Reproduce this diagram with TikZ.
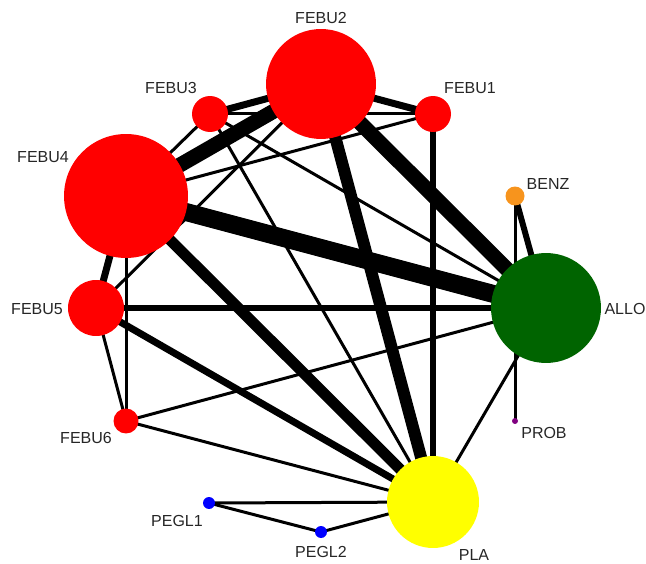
\documentclass[tikz,border=0pt]{standalone}
\usepackage{fontspec}
\setmainfont{Liberation Sans}
\usetikzlibrary{backgrounds}
\definecolor{trtRed}{RGB}{255, 0, 0}
\definecolor{trtGreen}{RGB}{0, 100, 0}
\definecolor{trtOrange}{RGB}{247, 148, 29}
\definecolor{trtYellow}{RGB}{255, 255, 0}
\definecolor{trtBlue}{RGB}{0, 0, 255}
\definecolor{trtPurple}{RGB}{128, 0, 128}

\begin{document}
\begin{tikzpicture}[
    x=0.02cm, y=-0.02cm,
    trt/.style={circle, inner sep=0pt, minimum size=#1*0.4mm},
    lbl/.style={font=\fontsize{9.1}{11}\selectfont, text=black!85, inner sep=0pt},
    cmp/.style={line width=#1*0.2mm, black},
  ]
    \useasboundingbox (0,0) rectangle (646,564);

    % treatments
    \node[trt=55, fill=trtRed] (FEBU2) at (321,84) {};
    \node[trt=18, fill=trtRed] (FEBU3) at (210,114) {};
    \node[trt=18, fill=trtRed] (FEBU1) at (433,114) {};
    \node[trt=62, fill=trtRed] (FEBU4) at (126,196) {};
    \node[trt=28, fill=trtRed] (FEBU5) at (96,308) {};
    \node[trt=12.5, fill=trtRed] (FEBU6) at (126,421) {};
    \node[trt=9.5, fill=trtOrange] (BENZ) at (515,196) {};
    \node[trt=55, fill=trtGreen] (ALLO) at (546,308) {};
    \node[trt=3, fill=trtPurple] (PROB) at (515,421) {};
    \node[trt=46, fill=trtYellow] (PLA) at (433,502) {};
    \node[trt=6, fill=trtBlue] (PEGL1) at (209,503) {};
    \node[trt=6, fill=trtBlue] (PEGL2) at (321,532) {};

    % labels
    \node[lbl] (lFEBU2) at (321,18) {FEBU2};
    \node[lbl] (lFEBU3) at (171,88) {FEBU3};
    \node[lbl] (lFEBU1) at (470,88) {FEBU1};
    \node[lbl] (lFEBU4) at (43,157) {FEBU4};
    \node[lbl] (lFEBU5) at (37,309) {FEBU5};
    \node[lbl] (lFEBU6) at (86,438) {FEBU6};
    \node[lbl] (lBENZ) at (548,184) {BENZ};
    \node[lbl] (lALLO) at (625,309) {ALLO};
    \node[lbl] (lPROB) at (544,433) {PROB};
    \node[lbl] (lPLA) at (474,555) {PLA};
    \node[lbl] (lPEGL1) at (177,521) {PEGL1};
    \node[lbl] (lPEGL2) at (321,552) {PEGL2};

    % comparisons, behind the treatments
    \begin{scope}[on background layer]
      \draw[cmp=18] (FEBU4.center) -- (ALLO.center);
      \draw[cmp=15] (FEBU2.center) -- (ALLO.center);
      \draw[cmp=15] (FEBU4.center) -- (FEBU2.center);
      \draw[cmp=12] (FEBU2.center) -- (PLA.center);
      \draw[cmp=11] (FEBU4.center) -- (PLA.center);
      \draw[cmp=7] (FEBU2.center) -- (FEBU3.center);
      \draw[cmp=7] (FEBU2.center) -- (FEBU1.center);
      \draw[cmp=7] (FEBU4.center) -- (FEBU5.center);
      \draw[cmp=6] (FEBU1.center) -- (PLA.center);
      \draw[cmp=6] (FEBU5.center) -- (ALLO.center);
      \draw[cmp=7] (FEBU5.center) -- (PLA.center);
      \draw[cmp=6] (BENZ.center) -- (ALLO.center);

      \draw[cmp=3] (FEBU3.center) -- (FEBU1.center);
      \draw[cmp=3] (FEBU3.center) -- (FEBU4.center);
      \draw[cmp=3] (FEBU3.center) -- (ALLO.center);
      \draw[cmp=3] (FEBU3.center) -- (PLA.center);
      \draw[cmp=3] (FEBU1.center) -- (FEBU4.center);
      \draw[cmp=3] (FEBU2.center) -- (FEBU5.center);
      \draw[cmp=3] (FEBU4.center) -- (FEBU6.center);
      \draw[cmp=3] (FEBU5.center) -- (FEBU6.center);
      \draw[cmp=3] (FEBU6.center) -- (ALLO.center);
      \draw[cmp=3] (FEBU6.center) -- (PLA.center);
      \draw[cmp=3] (ALLO.center) -- (PLA.center);
      \draw[cmp=3] (BENZ.center) -- (PROB.center);
      \draw[cmp=3] (PEGL1.center) -- (PLA.center);
      \draw[cmp=3] (PEGL2.center) -- (PLA.center);
      \draw[cmp=3] (PEGL1.center) -- (PEGL2.center);
    \end{scope}
  \end{tikzpicture}
\end{document}
